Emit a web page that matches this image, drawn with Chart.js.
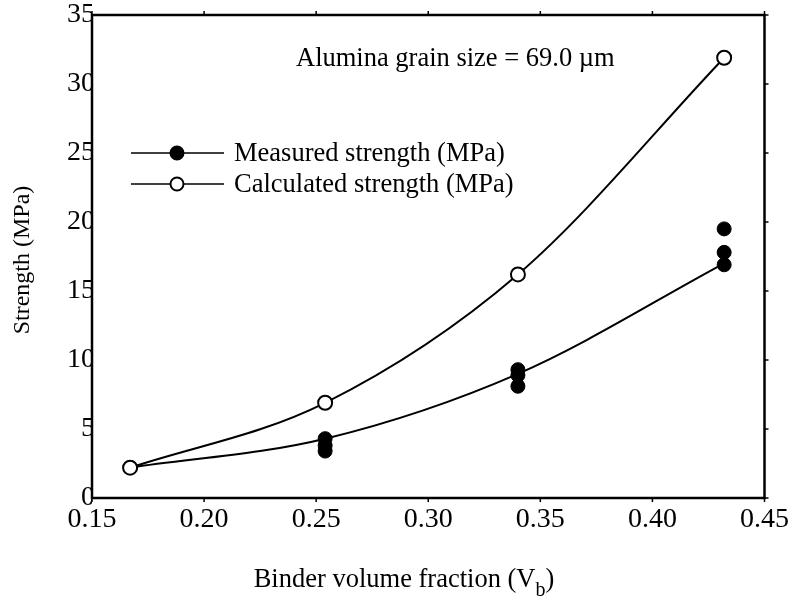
<!DOCTYPE html>
<html>
<head>
<meta charset="utf-8">
<script src="https://cdn.jsdelivr.net/npm/chart.js@4/dist/chart.umd.min.js"></script>
<style>
  body { margin: 0; background: #fff; }
  #wrap { width: 794px; height: 605px; }
</style>
</head>
<body>
<div id="wrap"><canvas id="chart1"></canvas></div>
<script>
// data
const binderFraction = [0.167, 0.254, 0.340, 0.432];
const calculatedStrength = [2.2, 6.9, 16.2, 31.9];
const measuredFit = [2.2, 4.3, 9.0, 17.0];
const measuredX = [0.167, 0.254, 0.254, 0.254, 0.340, 0.340, 0.340, 0.432, 0.432, 0.432];
const measuredY = [2.2, 4.3, 3.8, 3.4, 9.3, 8.9, 8.1, 19.5, 17.8, 16.9];
const xTicks = [0.15, 0.20, 0.25, 0.30, 0.35, 0.40, 0.45];
const yTicks = [0, 5, 10, 15, 20, 25, 30, 35];
const seriesNames = ['Measured strength (MPa)', 'Calculated strength (MPa)'];
const noteText = 'Alumina grain size = 69.0 \u00b5m';
const yTitle = 'Strength (MPa)';
const xTitle = 'Binder volume fraction (V';
const xTitleSub = 'b';

const serif = '"Liberation Serif", "DejaVu Serif", serif';

function pts(xs, ys) {
    return xs.map((x, i) => ({ x: x, y: ys[i] }));
}

// frame, inner ticks, legend, note and axis titles
const decor = {
    id: 'decor',
    afterDraw(chart) {
        const ctx = chart.ctx;
        const a = chart.chartArea;
        const sx = chart.scales.x, sy = chart.scales.y;
        ctx.save();
        ctx.strokeStyle = '#000';
        ctx.lineWidth = 2.5;
        ctx.strokeRect(a.left, a.top, a.right - a.left, a.bottom - a.top);
        ctx.lineWidth = 1.5;
        ctx.beginPath();
        xTicks.forEach(v => {
            const px = sx.getPixelForValue(v);
            ctx.moveTo(px, a.top); ctx.lineTo(px, a.top - 4);
            ctx.moveTo(px, a.bottom); ctx.lineTo(px, a.bottom + 4);
        });
        yTicks.forEach(v => {
            const py = sy.getPixelForValue(v);
            ctx.moveTo(a.right, py); ctx.lineTo(a.right + 4, py);
        });
        ctx.stroke();

        // legend
        ctx.fillStyle = '#000';
        ctx.font = '26.5px ' + serif;
        ctx.textBaseline = 'middle';
        const rows = [153, 184];
        seriesNames.forEach((name, i) => {
            const y = rows[i];
            ctx.lineWidth = 1.5;
            ctx.beginPath();
            ctx.moveTo(131, y); ctx.lineTo(224, y);
            ctx.stroke();
            ctx.beginPath();
            ctx.arc(177, y, 6.5, 0, Math.PI * 2);
            ctx.fillStyle = i === 0 ? '#000' : '#fff';
            ctx.fill();
            ctx.lineWidth = 2;
            ctx.stroke();
            ctx.fillStyle = '#000';
            ctx.textAlign = 'left';
            ctx.fillText(name, 234, y + 1);
        });

        // note
        ctx.font = '26.5px ' + serif;
        ctx.textAlign = 'left';
        ctx.fillText(noteText, 296, 59);

        // y title
        ctx.save();
        ctx.translate(23, 260);
        ctx.rotate(-Math.PI / 2);
        ctx.textAlign = 'center';
        ctx.font = '24px ' + serif;
        ctx.fillText(yTitle, 0, 0);
        ctx.restore();

        // x title with subscript
        ctx.font = '26.5px ' + serif;
        const w1 = ctx.measureText(xTitle).width;
        ctx.font = '20px ' + serif;
        const w2 = ctx.measureText(xTitleSub).width;
        ctx.font = '26.5px ' + serif;
        const w3 = ctx.measureText(')').width;
        let x0 = 404 - (w1 + w2 + w3) / 2;
        ctx.textAlign = 'left';
        ctx.fillText(xTitle, x0, 580);
        ctx.font = '20px ' + serif;
        ctx.fillText(xTitleSub, x0 + w1, 591);
        ctx.font = '26.5px ' + serif;
        ctx.fillText(')', x0 + w1 + w2, 580);
        ctx.restore();
    }
};

window.onload = function () {
    new Chart(document.getElementById('chart1'), {
        type: 'scatter',
        data: {
            datasets: [
                {
                    label: seriesNames[1],
                    data: pts(binderFraction, calculatedStrength),
                    pointRadius: 7,
                    pointBackgroundColor: '#fff',
                    pointBorderColor: '#000',
                    pointBorderWidth: 2
                },
                {
                    label: seriesNames[0],
                    data: pts(measuredX, measuredY),
                    pointRadius: 7,
                    pointBackgroundColor: '#000',
                    pointBorderColor: '#000',
                    pointBorderWidth: 1
                },
                {
                    label: 'calc fit',
                    data: pts(binderFraction, calculatedStrength),
                    showLine: true,
                    pointRadius: 0,
                    borderColor: '#000',
                    borderWidth: 2,
                    cubicInterpolationMode: 'monotone'
                },
                {
                    label: 'measured fit',
                    data: pts(binderFraction, measuredFit),
                    showLine: true,
                    pointRadius: 0,
                    borderColor: '#000',
                    borderWidth: 2,
                    cubicInterpolationMode: 'monotone'
                }
            ]
        },
        options: {
            responsive: true,
            maintainAspectRatio: false,
            animation: false,
            layout: { padding: { top: 15, right: 27, left: 0, bottom: 0 } },
            plugins: {
                legend: { display: false },
                tooltip: { enabled: false }
            },
            scales: {
                x: {
                    type: 'linear',
                    min: 0.15,
                    max: 0.45,
                    afterFit: s => { s.height = 107; },
                    afterBuildTicks: s => { s.ticks = xTicks.map(v => ({ value: v })); },
                    grid: { display: false, drawTicks: false },
                    border: { display: false },
                    ticks: {
                        color: '#000',
                        padding: 5,
                        font: { family: serif, size: 28 },
                        callback: v => v.toFixed(2)
                    }
                },
                y: {
                    type: 'linear',
                    min: 0,
                    max: 35,
                    afterFit: s => { s.width = 92; },
                    afterBuildTicks: s => { s.ticks = yTicks.map(v => ({ value: v })); },
                    grid: { display: false, drawTicks: false },
                    border: { display: false },
                    ticks: {
                        color: '#000',
                        padding: -3,
                        font: { family: serif, size: 28 }
                    }
                }
            }
        },
        plugins: [decor]
    });
};
</script>
</body>
</html>
